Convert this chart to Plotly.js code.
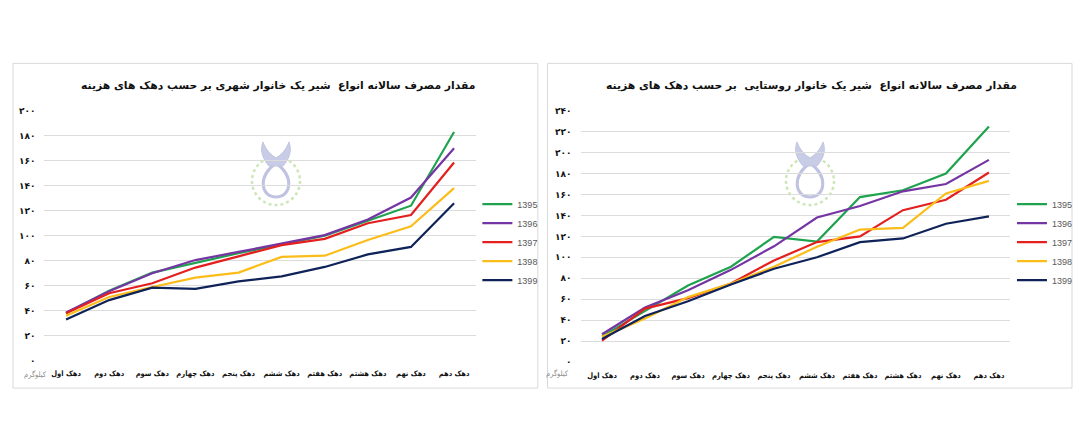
<!DOCTYPE html>
<html>
<head>
<meta charset="utf-8">
<script src="https://cdn.plot.ly/plotly-3.0.1.min.js"></script>
<style>
  html, body { margin: 0; padding: 0; background: #ffffff; }
  #chart { width: 1080px; height: 437px; }
</style>
</head>
<body>
<div id="chart"></div>
<script>
/* ============================================================================
 * Datos
 * ========================================================================== */

const deciles = ['دهک اول', 'دهک دوم', 'دهک سوم', 'دهک چهارم', 'دهک پنجم',
                 'دهک ششم', 'دهک هفتم', 'دهک هشتم', 'دهک نهم', 'دهک دهم'];

const years = ['1395', '1396', '1397', '1398', '1399'];

// شهری
const urban1395 = [38, 56, 70.5, 78.5, 86, 93, 100, 112, 124, 183];
const urban1396 = [38.5, 55.5, 70, 80.5, 87, 93.5, 100.5, 113, 130.5, 170];
const urban1397 = [38, 54, 62, 74.5, 83.5, 92.5, 97.5, 110, 116.5, 158.5];
const urban1398 = [36, 51, 59, 66.5, 70.5, 83, 84, 96.5, 107.5, 138];
const urban1399 = [33, 48.5, 58.5, 57.5, 63.5, 67.5, 75, 85, 91, 126];

// روستایی
const rural1395 = [24.5, 49, 73, 91, 119.5, 115, 157.5, 164, 180, 225];
const rural1396 = [26.5, 52, 68.5, 88, 110.5, 138, 149, 163, 170, 193];
const rural1397 = [20.5, 51, 61, 75, 97, 114.5, 120, 145, 155, 181];
const rural1398 = [24, 41.5, 62, 75, 91, 110, 126.5, 128, 161, 173];
const rural1399 = [22, 44, 58, 74, 89, 100, 114.5, 118, 132, 139];

const urbanTickVals = [0, 20, 40, 60, 80, 100, 120, 140, 160, 180, 200];
const urbanTickText = ['۰', '۲۰', '۴۰', '۶۰', '۸۰', '۱۰۰', '۱۲۰', '۱۴۰', '۱۶۰', '۱۸۰', '۲۰۰'];
const ruralTickVals = [0, 20, 40, 60, 80, 100, 120, 140, 160, 180, 200, 220, 240];
const ruralTickText = ['۰', '۲۰', '۴۰', '۶۰', '۸۰', '۱۰۰', '۱۲۰', '۱۴۰', '۱۶۰', '۱۸۰', '۲۰۰', '۲۲۰', '۲۴۰'];

const urbanTitle = 'مقدار مصرف سالانه انواع  شیر یک خانوار شهری بر حسب دهک های هزینه';
const ruralTitle = 'مقدار مصرف سالانه انواع  شیر یک خانوار روستایی  بر حسب دهک های هزینه';
const unitLabel = 'کیلوگرم';

/* ============================================================================
 * Estilo
 * ========================================================================== */

const ANCHO = 1080;
const ALTO = 437;
const COLORES = ['#1fa34e', '#7535a3', '#e3201f', '#fbbd1a', '#0f2359'];
const FUENTE = 'DejaVu Sans, Noto Sans, sans-serif';
const FUENTE_CORTA = 'DejaVu Sans Condensed, DejaVu Sans, sans-serif';

/* ============================================================================
 * Trazas
 * ========================================================================== */

function crearTrazas(series, xa, ya, leyenda) {
    return series.map((valores, i) => ({
        type: 'scatter',
        mode: 'lines',
        x: deciles,
        y: valores,
        name: years[i],
        xaxis: xa,
        yaxis: ya,
        legend: leyenda,
        line: { color: COLORES[i], width: 2.2 },
        hoverinfo: 'skip'
    }));
}

const trazas = [
    ...crearTrazas([urban1395, urban1396, urban1397, urban1398, urban1399], 'x', 'y', 'legend'),
    ...crearTrazas([rural1395, rural1396, rural1397, rural1398, rural1399], 'x2', 'y2', 'legend2')
];

/* ============================================================================
 * Ejes, leyendas y adornos
 * ========================================================================== */

function ejeX(dominio, anchor) {
    return {
        domain: dominio,
        anchor: anchor,
        type: 'category',
        range: [-0.5, 9.5],
        showgrid: false,
        zeroline: false,
        showline: false,
        ticks: '',
        tickangle: 0,
        ticklabelstandoff: 7,
        tickfont: { family: FUENTE_CORTA, size: 7.5, color: '#111111', weight: 'bold' },
        fixedrange: true
    };
}

function ejeY(dominio, anchor, rango, vals, texto) {
    return {
        domain: dominio,
        anchor: anchor,
        range: rango,
        tickvals: vals,
        ticktext: texto,
        showgrid: true,
        gridcolor: '#dcdcdc',
        gridwidth: 1,
        zeroline: false,
        showline: false,
        ticks: '',
        ticklabelstandoff: 8,
        tickfont: { family: FUENTE, size: 9, color: '#111111', weight: 'bold' },
        fixedrange: true
    };
}

function leyenda(x) {
    return {
        x: x,
        y: 0.566,
        xanchor: 'left',
        yanchor: 'top',
        bgcolor: 'rgba(0,0,0,0)',
        font: { family: 'Liberation Sans, Arial, sans-serif', size: 9, color: '#595959' },
        tracegroupgap: 0,
        itemwidth: 30
    };
}

function caja(x0, x1) {
    return {
        type: 'rect', xref: 'paper', yref: 'paper',
        x0: x0, x1: x1, y0: 0.112, y1: 0.855,
        line: { color: '#d9d9d9', width: 1 },
        fillcolor: 'rgba(0,0,0,0)',
        layer: 'below'
    };
}

// Punto en píxeles -> coordenadas de papel
function P(x, y) {
    return (x / ANCHO).toFixed(5) + ',' + (1 - y / ALTO).toFixed(5);
}

// Logotipo de fondo (marca de agua) centrado en cx
function logo(cx) {
    const anillo = {
        type: 'circle', xref: 'paper', yref: 'paper', layer: 'below',
        x0: (cx - 24) / ANCHO, x1: (cx + 24) / ANCHO,
        y0: 1 - 205 / ALTO, y1: 1 - 157 / ALTO,
        line: { color: '#cde6b8', width: 2.5, dash: 'dot' }
    };
    const gota = {
        type: 'path', xref: 'paper', yref: 'paper', layer: 'below',
        path: 'M ' + P(cx, 163) +
              ' C ' + P(cx - 19, 177) + ' ' + P(cx - 15, 197) + ' ' + P(cx, 197) +
              ' C ' + P(cx + 15, 197) + ' ' + P(cx + 19, 177) + ' ' + P(cx, 163) + ' Z',
        line: { color: '#bfc2e0', width: 3 },
        fillcolor: 'rgba(0,0,0,0)'
    };
    const alas = {
        type: 'path', xref: 'paper', yref: 'paper', layer: 'below',
        path: 'M ' + P(cx - 7, 166) + ' L ' + P(cx + 7, 166) +
              ' C ' + P(cx + 14, 158) + ' ' + P(cx + 16, 150) + ' ' + P(cx + 13, 142) +
              ' C ' + P(cx + 10, 150) + ' ' + P(cx + 5, 155) + ' ' + P(cx, 158) +
              ' C ' + P(cx - 5, 155) + ' ' + P(cx - 10, 150) + ' ' + P(cx - 13, 142) +
              ' C ' + P(cx - 16, 150) + ' ' + P(cx - 14, 158) + ' ' + P(cx - 7, 166) + ' Z',
        line: { color: '#c3c6e2', width: 1 },
        fillcolor: '#c9cce6'
    };
    return [anillo, gota, alas];
}

function titulo(texto, x) {
    return {
        text: texto, xref: 'paper', yref: 'paper',
        x: x, y: 0.805, xanchor: 'center', yanchor: 'middle', showarrow: false,
        font: { family: FUENTE, size: 10.8, color: '#111111', weight: 'bold' }
    };
}

function unidad(x, y) {
    return {
        text: unitLabel, xref: 'paper', yref: 'paper',
        x: x, y: y, xanchor: 'center', yanchor: 'middle', showarrow: false,
        font: { family: FUENTE_CORTA, size: 7.5, color: '#8c8c8c' }
    };
}

const layout = {
    width: ANCHO,
    height: ALTO,
    margin: { l: 0, r: 0, t: 0, b: 0 },
    paper_bgcolor: '#ffffff',
    plot_bgcolor: 'rgba(0,0,0,0)',
    showlegend: true,
    xaxis: ejeX([0.0412, 0.4404], 'y'),
    yaxis: ejeY([0.1746, 0.7467], 'x', [0, 200], urbanTickVals, urbanTickText),
    xaxis2: ejeX([0.5375, 0.9356], 'y2'),
    yaxis2: ejeY([0.1716, 0.7467], 'x2', [0, 240], ruralTickVals, ruralTickText),
    legend: leyenda(0.442),
    legend2: leyenda(0.937),
    shapes: [caja(0.012, 0.498), caja(0.507, 0.9926), ...logo(276), ...logo(810)],
    annotations: [
        titulo(urbanTitle, 0.257),
        titulo(ruralTitle, 0.751),
        unidad(0.033, 0.142),
        unidad(0.516, 0.146)
    ]
};

Plotly.newPlot('chart', trazas, layout, { displayModeBar: false, staticPlot: true });
</script>
</body>
</html>
